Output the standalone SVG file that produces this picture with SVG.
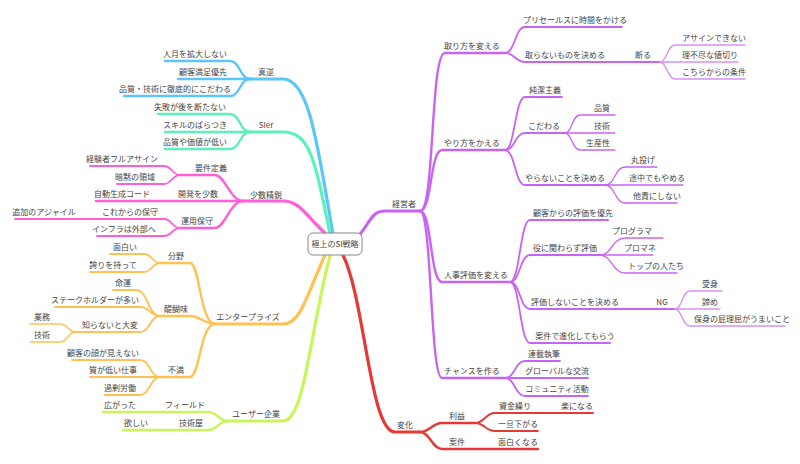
<svg xmlns="http://www.w3.org/2000/svg" width="800" height="464" viewBox="0 0 800 464">
<style>
text{font-family:"Noto Sans CJK JP","Noto Sans",sans-serif;font-size:8px;fill:#444;text-anchor:middle}
path{fill:none;stroke-linecap:round}
.l1{stroke-width:3.2}.l2{stroke-width:2.4}.l3{stroke-width:1.8}.l4{stroke-width:1.3}
.b{stroke:#5bc6f8}.t{stroke:#5cf0bc}.p{stroke:#ff5ed6}.o{stroke:#ffc252}.g{stroke:#c8f55a}.r{stroke:#e53935}.v{stroke:#c864f5}.vl{stroke:#d890f8}
</style>
<rect width="800" height="464" fill="#fff"/>
<g id="connectors">
<path class="l1 b" d="M333 234 C318 150 310 79 283 79 H250"/>
<path class="l2 b" d="M250 79 C240 79 240 61 230 61 H165"/>
<path class="l2 b" d="M250 79 H178"/>
<path class="l2 b" d="M250 79 C240 79 240 96 230 96 H124"/>
<path class="l1 t" d="M330 234 C315 160 310 132 283 132 H250"/>
<path class="l2 t" d="M250 132 C240 132 240 114 230 114 H158"/>
<path class="l2 t" d="M250 132 H165"/>
<path class="l2 t" d="M250 132 C240 132 240 149 230 149 H165"/>
<path class="l1 p" d="M328 236 C305 215 300 201 283 201 H243"/>
<path class="l2 p" d="M243 201 C230 201 225 175 215 175 H180"/>
<path class="l3 p" d="M180 175 C172 175 172 166 164 166 H90"/>
<path class="l3 p" d="M180 175 C172 175 172 184 164 184 H117"/>
<path class="l2 p" d="M243 201 H96"/>
<path class="l2 p" d="M243 201 C230 201 225 228 215 228 H180"/>
<path class="l3 p" d="M180 228 C172 228 172 219 164 219 H15"/>
<path class="l3 p" d="M180 228 C172 228 172 236 164 236 H97"/>
<path class="l1 o" d="M325 255 C305 300 300 324 283 324 H215"/>
<path class="l2 o" d="M215 324 C200 324 200 263 190 263 H160"/>
<path class="l3 o" d="M160 263 C152 263 152 254 144 254 H110"/>
<path class="l3 o" d="M160 263 C152 263 152 272 144 272 H90"/>
<path class="l2 o" d="M215 324 C205 324 200 316 190 316 H160"/>
<path class="l3 o" d="M160 316 C148 316 148 290 136 290 H113"/>
<path class="l3 o" d="M160 316 C150 316 150 307 140 307 H55"/>
<path class="l3 o" d="M160 316 C150 316 150 332 140 332 H75"/>
<path class="l4 o" d="M75 332 C68 332 68 324 60 324 H30"/>
<path class="l4 o" d="M75 332 C68 332 68 342 60 342 H30"/>
<path class="l2 o" d="M215 324 C200 324 200 377 190 377 H160"/>
<path class="l3 o" d="M160 377 C150 377 150 360 140 360 H72"/>
<path class="l3 o" d="M160 377 H90"/>
<path class="l3 o" d="M160 377 C150 377 150 395 140 395 H105"/>
<path class="l1 g" d="M330 256 C310 330 305 421 283 421 H228"/>
<path class="l2 g" d="M228 421 C218 421 218 412 208 412 H103"/>
<path class="l2 g" d="M228 421 C218 421 218 430 208 430 H123"/>
<path class="l1 r" d="M343 255 C365 300 370 432 395 432 H420"/>
<path class="l2 r" d="M420 432 C430 432 432 423 442 423 H475"/>
<path class="l3 r" d="M475 423 C485 423 485 413 495 413 H593"/>
<path class="l3 r" d="M475 423 C485 423 485 431 495 431 H538"/>
<path class="l2 r" d="M420 432 C430 432 432 449 442 449 H538"/>
<path class="l1 v" d="M355 240 C370 225 370 211 385 211 H420"/>
<path class="l2 v" d="M420 211 C435 211 430 53 445 53 H505"/>
<path class="l2 v" d="M420 211 C432 211 430 150 442 150 H505"/>
<path class="l2 v" d="M420 211 C432 211 430 282 442 282 H510"/>
<path class="l2 v" d="M420 211 C432 211 430 378 442 378 H505"/>
<path class="l3 v" d="M505 53 C515 53 515 27 525 27 H622"/>
<path class="l3 v" d="M505 53 C515 53 515 62 525 62 H660"/>
<path class="l4 vl" d="M660 62 C667 62 667 45 675 45 H745"/>
<path class="l4 vl" d="M660 62 H738"/>
<path class="l4 vl" d="M660 62 C667 62 667 79 675 79 H745"/>
<path class="l3 v" d="M505 150 C515 150 515 97 525 97 H562"/>
<path class="l3 v" d="M505 150 C515 150 515 133 525 133 H565"/>
<path class="l3 v" d="M505 150 C515 150 515 185 525 185 H605"/>
<path class="l4 v" d="M565 133 C572 133 572 115 580 115 H615"/>
<path class="l4 v" d="M565 133 H615"/>
<path class="l4 v" d="M565 133 C572 133 572 150 580 150 H615"/>
<path class="l4 v" d="M605 185 C615 185 615 167 625 167 H657"/>
<path class="l4 v" d="M605 185 H683"/>
<path class="l4 v" d="M605 185 C615 185 615 203 625 203 H677"/>
<path class="l3 v" d="M510 282 C520 282 520 220 530 220 H608"/>
<path class="l3 v" d="M510 282 C520 282 520 255 530 255 H600"/>
<path class="l3 v" d="M510 282 C520 282 520 309 530 309 H675"/>
<path class="l3 v" d="M510 282 C520 282 520 343 530 343 H610"/>
<path class="l4 v" d="M600 255 C612 255 612 238 625 238 H663"/>
<path class="l4 v" d="M600 255 H653"/>
<path class="l4 v" d="M600 255 C612 255 612 273 625 273 H677"/>
<path class="l4 vl" d="M675 309 C682 309 682 291 690 291 H722"/>
<path class="l4 vl" d="M675 309 H720"/>
<path class="l4 vl" d="M675 309 C682 309 682 326 690 326 H785"/>
<path class="l3 v" d="M505 378 C515 378 515 361 525 361 H560"/>
<path class="l3 v" d="M505 378 H588"/>
<path class="l3 v" d="M505 378 C515 378 515 396 525 396 H588"/>
</g>
<g id="root"><rect x="308" y="233" width="54" height="22" rx="5" fill="#fff" stroke="#888" stroke-width="1"/><text x="335" y="247">極上のSI戦略</text></g>
<g id="n-blue"><text x="266" y="75">真逆</text><text x="195" y="57">人月を拡大しない</text><text x="203" y="75">顧客満足優先</text><text x="175" y="92">品質・技術に徹底的にこだわる</text></g>
<g id="n-teal"><text x="266" y="128">SIer</text><text x="190" y="110">失敗が後を断たない</text><text x="195" y="128">スキルのばらつき</text><text x="195" y="145">品質や価値が低い</text></g>
<g id="n-pink"><text x="266" y="198">少数精鋭</text><text x="211" y="171">要件定義</text><text x="122" y="162">経験者フルアサイン</text><text x="135" y="180">暗黙の領域</text><text x="198" y="197">開発を少数</text><text x="122" y="197">自動生成コード</text><text x="197" y="224">運用保守</text><text x="130" y="215">これからの保守</text><text x="44" y="215">追加のアジャイル</text><text x="124" y="232">インフラは外部へ</text></g>
<g id="n-orange"><text x="248" y="320">エンタープライズ</text><text x="176" y="259">分野</text><text x="125" y="250">面白い</text><text x="113" y="268">誇りを持って</text><text x="176" y="312">醍醐味</text><text x="123" y="286">命運</text><text x="95" y="303">ステークホルダーが多い</text><text x="110" y="328">知らないと大変</text><text x="42" y="320">業務</text><text x="42" y="338">技術</text><text x="176" y="373">不満</text><text x="103" y="356">顧客の顔が見えない</text><text x="113" y="373">質が低い仕事</text><text x="120" y="391">過剰労働</text></g>
<g id="n-green"><text x="256" y="417">ユーザー企業</text><text x="185" y="408">フィールド</text><text x="120" y="408">広がった</text><text x="191" y="426">技術屋</text><text x="136" y="426">欲しい</text></g>
<g id="n-red"><text x="405" y="428">変化</text><text x="457" y="419">利益</text><text x="515" y="409">資金繰り</text><text x="577" y="409">楽になる</text><text x="518" y="427">一旦下がる</text><text x="457" y="445">案件</text><text x="518" y="445">面白くなる</text></g>
<g id="n-purple"><text x="404" y="207">経営者</text>
<text x="472" y="49">取り方を変える</text><text x="575" y="23">プリセールスに時間をかける</text><text x="565" y="58">取らないものを決める</text><text x="643" y="58">断る</text><text x="714" y="41">アサインできない</text><text x="710" y="58">理不尽な値切り</text><text x="714" y="75">こちらからの条件</text>
<text x="472" y="146">やり方をかえる</text><text x="545" y="93">純潔主義</text><text x="544" y="129">こだわる</text><text x="602" y="111">品質</text><text x="602" y="129">技術</text><text x="598" y="146">生産性</text><text x="565" y="181">やらないことを決める</text><text x="643" y="163">丸投げ</text><text x="657" y="181">途中でもやめる</text><text x="657" y="199">他責にしない</text>
<text x="476" y="278">人事評価を変える</text><text x="573" y="216">顧客からの評価を優先</text><text x="565" y="251">役に関わらず評価</text><text x="632" y="234">プログラマ</text><text x="640" y="251">プロマネ</text><text x="656" y="269">トップの人たち</text><text x="575" y="305">評価しないことを決める</text><text x="662" y="305">NG</text><text x="710" y="287">受身</text><text x="710" y="305">諦め</text><text x="742" y="322">保身の屁理屈がうまいこと</text><text x="575" y="339">案件で進化してもらう</text>
<text x="472" y="374">チャンスを作る</text><text x="544" y="357">連載執筆</text><text x="557" y="374">グローバルな交流</text><text x="557" y="392">コミュニティ活動</text></g>
</svg>
